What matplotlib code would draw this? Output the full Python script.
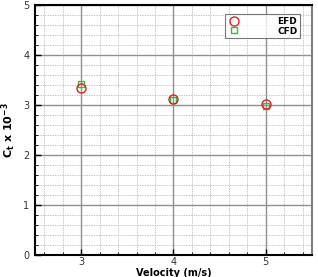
import matplotlib

matplotlib.use("Agg")

import matplotlib.pyplot as plt
from matplotlib.ticker import MultipleLocator

# Data
velocity = [3, 4, 5]
ct_efd = [3.33, 3.11, 3.01]
ct_cfd = [3.42, 3.10, 2.98]


def main():
    fig = plt.figure(figsize=(3.18, 2.77), dpi=100)
    ax = fig.add_axes([0.110, 0.080, 0.871, 0.902])

    ax.plot(velocity, ct_efd, linestyle="none", marker="o", markersize=6.5,
            markerfacecolor="none", markeredgecolor="#e02020",
            markeredgewidth=1.0, label="EFD", zorder=4)
    ax.plot(velocity, ct_cfd, linestyle="none", marker="s", markersize=5,
            markerfacecolor="none", markeredgecolor="#30c030",
            markeredgewidth=1.0, label="CFD", zorder=3)

    ax.set_xlim(2.5, 5.5)
    ax.set_ylim(0, 5)
    ax.xaxis.set_major_locator(MultipleLocator(1))
    ax.xaxis.set_minor_locator(MultipleLocator(0.2))
    ax.yaxis.set_major_locator(MultipleLocator(1))
    ax.yaxis.set_minor_locator(MultipleLocator(0.2))

    ax.grid(which="major", color="#909090", linewidth=1.0, linestyle="-")
    ax.grid(which="minor", color="#b0b0b0", linewidth=0.5, linestyle=(0, (2, 1.5)))
    ax.set_axisbelow(True)

    ax.tick_params(which="both", direction="in", labelsize=7,
                   labelcolor="#333333", top=False, right=False)
    ax.tick_params(which="major", length=4, width=1.0)
    ax.tick_params(which="minor", length=2, width=0.6)
    ax.tick_params(axis="x", pad=1.5)
    ax.tick_params(axis="y", pad=4)

    for name in ["left", "bottom", "top"]:
        ax.spines[name].set_linewidth(1.5)
        ax.spines[name].set_color("black")
    ax.spines["right"].set_linewidth(1.5)
    ax.spines["right"].set_color("#808080")

    ax.set_xlabel("Velocity (m/s)", fontsize=7, fontweight="bold", labelpad=0.5)
    ax.set_ylabel(r"C$_\mathbf{t}$ x 10$^\mathbf{-3}$", fontsize=8,
                  fontweight="bold", labelpad=4)

    leg = ax.legend(loc="upper right", bbox_to_anchor=(0.958, 0.962),
                    prop={"weight": "bold", "size": 6.5},
                    frameon=True, fancybox=False, edgecolor="#555555",
                    handletextpad=4.0, borderpad=0.3, labelspacing=0.05,
                    markerfirst=True, handlelength=1.5, borderaxespad=0.0)
    leg.get_frame().set_linewidth(0.8)

    fig.savefig("out.png", dpi=100)


if __name__ == "__main__":
    main()
